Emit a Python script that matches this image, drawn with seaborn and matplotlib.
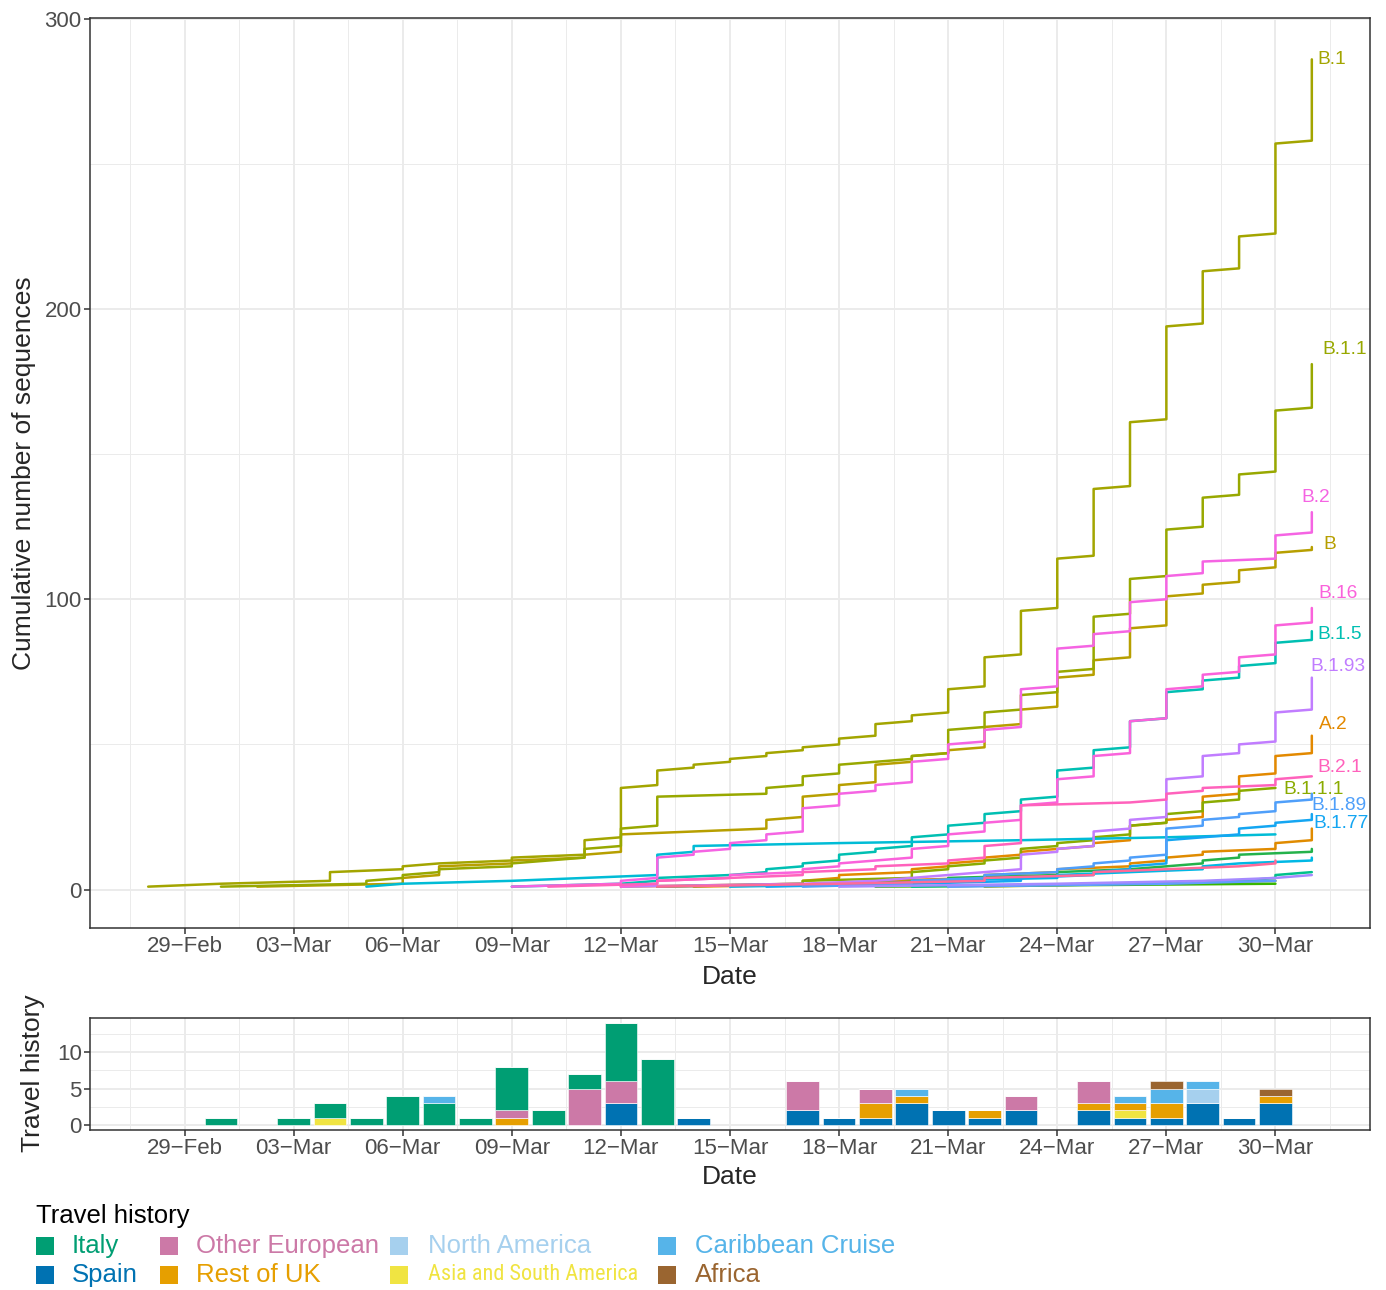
import logging
import numpy as np
import pandas as pd
import matplotlib
matplotlib.use("Agg")
import matplotlib.pyplot as plt
import matplotlib.dates as mdates
from matplotlib.patches import Rectangle
from matplotlib.ticker import FixedLocator
import seaborn as sns

logging.getLogger("matplotlib.font_manager").setLevel(logging.ERROR)

sns.set_theme(style="white")
plt.rcParams["font.family"] = ["Liberation Sans", "DejaVu Sans"]

YEAR = "2020"

# ---- cumulative sequences per lineage: sampling dates and running total at the end of that day
b1_dates = ["02-28", "03-01", "03-04", "03-06", "03-07", "03-09", "03-11", "03-12", "03-13", "03-14",
            "03-15", "03-16", "03-17", "03-18", "03-19", "03-20", "03-21", "03-22", "03-23", "03-24",
            "03-25", "03-26", "03-27", "03-28", "03-29", "03-30", "03-31"]
b1_cum = [1, 2, 6, 8, 9, 11, 17, 35, 41, 43, 45, 47, 49, 52, 57, 60, 69, 80, 96, 114,
          138, 161, 194, 213, 225, 257, 286]

b11_dates = ["03-01", "03-05", "03-06", "03-07", "03-09", "03-10", "03-11", "03-12", "03-13", "03-16",
             "03-17", "03-18", "03-19", "03-20", "03-21", "03-22", "03-23", "03-24", "03-25", "03-26",
             "03-27", "03-28", "03-29", "03-30", "03-31"]
b11_cum = [1, 3, 5, 7, 9, 10, 14, 21, 32, 35, 39, 43, 44, 46, 55, 61, 67, 75, 94, 107,
           124, 135, 143, 165, 181]

b_dates = ["03-02", "03-06", "03-07", "03-09", "03-11", "03-12", "03-14", "03-16", "03-17", "03-18",
           "03-19", "03-20", "03-21", "03-22", "03-23", "03-24", "03-25", "03-26", "03-27", "03-28",
           "03-29", "03-30", "03-31"]
b_cum = [1, 4, 8, 10, 12, 19, 20, 24, 32, 36, 43, 46, 48, 56, 62, 73, 79, 90, 101, 105,
         110, 116, 118]

b2_dates = ["03-09", "03-12", "03-13", "03-14", "03-15", "03-16", "03-17", "03-18", "03-19", "03-20",
            "03-21", "03-22", "03-23", "03-24", "03-25", "03-26", "03-27", "03-28", "03-30", "03-31"]
b2_cum = [1, 3, 11, 13, 16, 19, 28, 33, 36, 44, 50, 55, 69, 83, 88, 99, 108, 113, 122, 130]

b16_dates = ["03-12", "03-13", "03-15", "03-17", "03-18", "03-19", "03-20", "03-21", "03-22", "03-23",
             "03-24", "03-25", "03-26", "03-27", "03-28", "03-29", "03-30", "03-31"]
b16_cum = [1, 3, 5, 7, 9, 10, 14, 19, 23, 29, 38, 46, 58, 69, 74, 80, 91, 97]

b15_dates = ["03-09", "03-12", "03-13", "03-15", "03-16", "03-17", "03-18", "03-19", "03-20", "03-21",
             "03-22", "03-23", "03-24", "03-25", "03-26", "03-27", "03-28", "03-29", "03-30", "03-31"]
b15_cum = [1, 2, 4, 5, 7, 9, 12, 14, 18, 22, 26, 31, 41, 48, 58, 68, 72, 77, 85, 89]

b193_dates = ["03-12", "03-17", "03-19", "03-20", "03-21", "03-22", "03-23", "03-24", "03-25", "03-26",
              "03-27", "03-28", "03-29", "03-30", "03-31"]
b193_cum = [1, 2, 3, 4, 5, 6, 12, 14, 20, 24, 38, 46, 50, 61, 73]

a2_dates = ["03-12", "03-17", "03-18", "03-20", "03-21", "03-22", "03-23", "03-24", "03-25", "03-26",
            "03-27", "03-28", "03-29", "03-30", "03-31"]
a2_cum = [1, 3, 5, 7, 9, 11, 13, 14, 16, 22, 24, 32, 39, 46, 53]

b21_dates = ["03-10", "03-13", "03-15", "03-17", "03-19", "03-21", "03-22", "03-23", "03-26", "03-27",
             "03-28", "03-30", "03-31"]
b21_cum = [1, 3, 4, 6, 8, 10, 15, 29, 30, 33, 35, 38, 39]

b111_dates = ["03-13", "03-17", "03-20", "03-21", "03-22", "03-23", "03-24", "03-25", "03-26", "03-27",
              "03-28", "03-29", "03-30"]
b111_cum = [1, 3, 6, 8, 10, 14, 16, 18, 22, 26, 30, 34, 35]

b189_dates = ["03-17", "03-20", "03-22", "03-24", "03-25", "03-26", "03-27", "03-28", "03-29", "03-30",
              "03-31"]
b189_cum = [1, 3, 5, 7, 9, 11, 21, 24, 26, 30, 33]

b177_dates = ["03-16", "03-20", "03-23", "03-25", "03-26", "03-27", "03-28", "03-29", "03-30", "03-31"]
b177_cum = [1, 2, 4, 6, 8, 17, 18, 21, 23, 26]

b3_dates = ["03-05", "03-06", "03-09", "03-11", "03-13", "03-14", "03-18", "03-23", "03-27", "03-30"]
b3_cum = [1, 2, 3, 4, 12, 15, 16, 17, 18, 19]

a1_dates = ["03-14", "03-19", "03-22", "03-24", "03-26", "03-27", "03-28", "03-30", "03-31"]
a1_cum = [1, 3, 5, 7, 9, 11, 13, 16, 21]

b18_dates = ["03-13", "03-18", "03-21", "03-24", "03-26", "03-27", "03-28", "03-29", "03-31"]
b18_cum = [1, 2, 4, 6, 7, 8, 10, 12, 14]

b172_dates = ["03-15", "03-20", "03-24", "03-26", "03-28", "03-29", "03-31"]
b172_cum = [1, 3, 5, 6, 8, 9, 11]

b22_dates = ["03-13", "03-18", "03-22", "03-25", "03-27", "03-29", "03-30"]
b22_cum = [1, 2, 4, 6, 7, 8, 10]

b110_dates = ["03-20", "03-26", "03-29", "03-30", "03-31"]
b110_cum = [1, 2, 3, 5, 6]

b140_dates = ["03-18", "03-24", "03-28", "03-30", "03-31"]
b140_cum = [1, 2, 3, 4, 5]

b113_dates = ["03-22", "03-26", "03-30"]
b113_cum = [1, 2, 3]

b19_dates = ["03-19", "03-30"]
b19_cum = [1, 2]

b136_dates = ["03-21", "03-27", "03-30"]
b136_cum = [1, 2, 3]

lineage_series = {
    "A.1": (a1_dates, a1_cum),
    "A.2": (a2_dates, a2_cum),
    "B": (b_dates, b_cum),
    "B.1": (b1_dates, b1_cum),
    "B.1.1": (b11_dates, b11_cum),
    "B.1.1.1": (b111_dates, b111_cum),
    "B.1.1.3": (b113_dates, b113_cum),
    "B.1.8": (b18_dates, b18_cum),
    "B.1.9": (b19_dates, b19_cum),
    "B.1.10": (b110_dates, b110_cum),
    "B.1.5": (b15_dates, b15_cum),
    "B.3": (b3_dates, b3_cum),
    "B.1.72": (b172_dates, b172_cum),
    "B.1.77": (b177_dates, b177_cum),
    "B.1.36": (b136_dates, b136_cum),
    "B.1.89": (b189_dates, b189_cum),
    "B.1.40": (b140_dates, b140_cum),
    "B.1.93": (b193_dates, b193_cum),
    "B.16": (b16_dates, b16_cum),
    "B.2": (b2_dates, b2_cum),
    "B.2.1": (b21_dates, b21_cum),
    "B.2.2": (b22_dates, b22_cum),
}

lineage_colors = {
    "A.1": "#E08B00", "A.2": "#E38900", "B": "#B79F00", "B.1": "#A3A500",
    "B.1.1": "#98A800", "B.1.1.1": "#8AAB00", "B.1.1.3": "#9DA700", "B.1.8": "#24B24B",
    "B.1.9": "#39B600", "B.1.10": "#00C08B", "B.1.5": "#00BFB2", "B.3": "#00BCD6",
    "B.1.72": "#00B8E5", "B.1.77": "#14A6F2", "B.1.36": "#619CFF", "B.1.89": "#4F9FFA",
    "B.1.40": "#A58AFF", "B.1.93": "#C17DFF", "B.16": "#FA62DB", "B.2": "#F564E3",
    "B.2.1": "#FF62BC", "B.2.2": "#FF6A98",
}

# text placement for the labelled lineages: (offset in days from last date, y position)
label_place = {
    "B.1": (0.15, 286), "B.1.1": (0.30, 186), "B.2": (-0.28, 135), "B": (0.33, 119),
    "B.16": (0.19, 102), "B.1.5": (0.16, 88), "B.1.93": (-0.03, 77), "A.2": (0.19, 57),
    "B.2.1": (0.16, 42), "B.1.1.1": (0.22, 34.5), "B.1.89": (0.0, 29), "B.1.77": (0.05, 22.7),
}

# ---- travel history of sequenced cases by sampling date
travel_dates = ["03-01", "03-03", "03-04", "03-05", "03-06", "03-07", "03-08", "03-09", "03-10",
                "03-11", "03-12", "03-13", "03-14", "03-17", "03-18", "03-19", "03-20", "03-21",
                "03-22", "03-23", "03-25", "03-26", "03-27", "03-28", "03-29", "03-30"]
italy = [1, 1, 2, 1, 4, 3, 1, 6, 2, 2, 8, 9, 0, 0, 0, 0, 0, 0, 0, 0, 0, 0, 0, 0, 0, 0]
spain = [0, 0, 0, 0, 0, 0, 0, 0, 0, 0, 3, 0, 1, 2, 1, 1, 3, 2, 1, 2, 2, 1, 1, 3, 1, 3]
other_european = [0, 0, 0, 0, 0, 0, 0, 1, 0, 5, 3, 0, 0, 4, 0, 2, 0, 0, 0, 2, 3, 0, 0, 0, 0, 0]
rest_of_uk = [0, 0, 0, 0, 0, 0, 0, 1, 0, 0, 0, 0, 0, 0, 0, 2, 1, 0, 1, 0, 1, 1, 2, 0, 0, 1]
north_america = [0, 0, 0, 0, 0, 0, 0, 0, 0, 0, 0, 0, 0, 0, 0, 0, 0, 0, 0, 0, 0, 0, 0, 2, 0, 0]
asia_south_america = [0, 0, 1, 0, 0, 0, 0, 0, 0, 0, 0, 0, 0, 0, 0, 0, 0, 0, 0, 0, 0, 1, 0, 0, 0, 0]
caribbean_cruise = [0, 0, 0, 0, 0, 1, 0, 0, 0, 0, 0, 0, 0, 0, 0, 0, 1, 0, 0, 0, 0, 1, 2, 1, 0, 0]
africa = [0, 0, 0, 0, 0, 0, 0, 0, 0, 0, 0, 0, 0, 0, 0, 0, 0, 0, 0, 0, 0, 0, 1, 0, 0, 1]

legend_order = ["Italy", "Spain", "Other European", "Rest of UK", "North America",
                "Asia and South America", "Caribbean Cruise", "Africa"]
stack_order = ["Spain", "Asia and South America", "Rest of UK", "North America",
               "Other European", "Italy", "Caribbean Cruise", "Africa"]
travel_counts = {
    "Italy": italy, "Spain": spain, "Other European": other_european, "Rest of UK": rest_of_uk,
    "North America": north_america, "Asia and South America": asia_south_america,
    "Caribbean Cruise": caribbean_cruise, "Africa": africa,
}
travel_colors = {
    "Italy": "#009E73", "Spain": "#0072B2", "Other European": "#CC79A7", "Rest of UK": "#E69F00",
    "North America": "#A6D0EE", "Asia and South America": "#F0E442",
    "Caribbean Cruise": "#56B4E9", "Africa": "#9A6530",
}

tick_dates = ["02-29", "03-03", "03-06", "03-09", "03-12", "03-15", "03-18", "03-21", "03-24",
              "03-27", "03-30"]

NARROW_FAMILIES = ["Liberation Sans Narrow", "Arial Narrow", "Roboto Condensed",
                   "PT Sans Narrow", "Archivo Narrow", "Liberation Sans"]


def to_date(md):
    return pd.Timestamp(f"{YEAR}-{md}")


# one row per sequence, so same-day sequences stack vertically on the line
rows = []
for name, (dates, cum) in lineage_series.items():
    prev = 0
    for d, c in zip(dates, cum):
        for v in range(prev + 1, c + 1):
            rows.append((name, to_date(d), v))
        prev = c
seq = pd.DataFrame(rows, columns=["lineage", "date", "count"])

W, H = 1386, 1290
fig = plt.figure(figsize=(W / 100, H / 100), dpi=100)
ax1 = fig.add_axes([90 / W, (H - 928) / H, 1280 / W, 910 / H])
ax2 = fig.add_axes([90 / W, (H - 1130) / H, 1280 / W, 112 / H])

sns.lineplot(data=seq, x="date", y="count", hue="lineage", palette=lineage_colors,
             estimator=None, sort=False, legend=False, linewidth=1.8, ax=ax1, zorder=3)

for name, (dx, yv) in label_place.items():
    last = mdates.date2num(to_date(lineage_series[name][0][-1]))
    ax1.text(last + dx, yv, name, color=lineage_colors[name], fontsize=13.8,
             ha="left", va="center", zorder=4)

# stacked travel-history bars
bar_x = mdates.date2num([to_date(d) for d in travel_dates])
bottom = np.zeros(len(travel_dates))
for cat in stack_order:
    vals = np.array(travel_counts[cat], dtype=float)
    ax2.bar(bar_x, vals, width=0.9, bottom=bottom, color=travel_colors[cat],
            edgecolor="white", linewidth=0.4, zorder=3)
    bottom += vals

# shared date scale with 5% padding on each side
all_days = mdates.date2num(seq["date"])
span = all_days.max() - all_days.min()
xlim = (all_days.min() - 0.05 * span, all_days.max() + 0.05 * span)
ymax = seq["count"].max()
ymin = seq["count"].min()
yspan = ymax - ymin
tot_max = bottom.max()

tick_nums = mdates.date2num([to_date(d) for d in tick_dates])
step = tick_nums[1] - tick_nums[0]
minor_x = np.concatenate([[tick_nums[0] - step / 2], tick_nums + step / 2])

for ax in (ax1, ax2):
    ax.set_xlim(*xlim)
    ax.xaxis.set_major_locator(FixedLocator(tick_nums))
    ax.xaxis.set_minor_locator(FixedLocator(minor_x))
    ax.xaxis.set_major_formatter(mdates.DateFormatter("%d\u2212%b"))
    ax.grid(which="major", color="#EBEBEB", linewidth=1.4, zorder=0)
    ax.grid(which="minor", color="#EBEBEB", linewidth=0.7, zorder=0)
    ax.set_axisbelow(True)
    for sp in ax.spines.values():
        sp.set_color("#333333")
        sp.set_linewidth(1.1)
    ax.tick_params(axis="both", which="major", length=4, width=1.1, color="#333333",
                   labelcolor="#4D4D4D", labelsize=16, pad=2,
                   bottom=True, left=True)
    ax.tick_params(axis="both", which="minor", length=0)
    ax.set_xlabel("")
    ax.set_ylabel("")

ax1.set_ylim(ymin - 0.05 * yspan, ymax + 0.05 * yspan)
ax1.yaxis.set_major_locator(FixedLocator([0, 100, 200, 300]))
ax1.yaxis.set_minor_locator(FixedLocator([50, 150, 250]))

ax2.set_ylim(-0.05 * tot_max, tot_max * 1.05)
ax2.yaxis.set_major_locator(FixedLocator([0, 5, 10]))
ax2.yaxis.set_minor_locator(FixedLocator([2.5, 7.5, 12.5]))

# axis titles
fig.text(24 / W, 1 - 473 / H, "Cumulative number of sequences", rotation=90,
         ha="center", va="center", fontsize=19)
fig.text(730 / W, 1 - 977 / H, "Date", ha="center", va="center", fontsize=19)
fig.text(33 / W, 1 - 1073 / H, "Travel history", rotation=90,
         ha="center", va="center", fontsize=19)
fig.text(730 / W, 1 - 1177 / H, "Date", ha="center", va="center", fontsize=19)

# legend: two rows, four columns, labels coloured like their keys
fig.text(36 / W, 1 - 1216 / H, "Travel history", ha="left", va="center", fontsize=18.5,
         color="black")
col_key_x = [36, 160, 390, 658]
col_text_x = [72, 196, 428, 695]
row_y = [1246, 1275]
key = 18
narrow_label = None
for i, cat in enumerate(legend_order):
    col, row = divmod(i, 2)
    kx, ty = col_key_x[col], row_y[row]
    fig.add_artist(Rectangle((kx / W, 1 - (ty + key / 2) / H), key / W, key / H,
                             transform=fig.transFigure, facecolor=travel_colors[cat],
                             edgecolor="none"))
    t = fig.text(col_text_x[col] / W, 1 - ty / H, cat, ha="left", va="center",
                 fontsize=18.5, color=travel_colors[cat])
    if cat == "Asia and South America":
        t.set_fontfamily(NARROW_FAMILIES)
        narrow_label = t

# the long label is set in a narrow face and must fit before the last column
fig.canvas.draw()
renderer = fig.canvas.get_renderer()
avail = col_key_x[3] - col_text_x[2] - 20
width = narrow_label.get_window_extent(renderer).width
if width > avail:
    narrow_label.set_fontsize(18.5 * avail / width)

fig.savefig("out.png", dpi=100)
